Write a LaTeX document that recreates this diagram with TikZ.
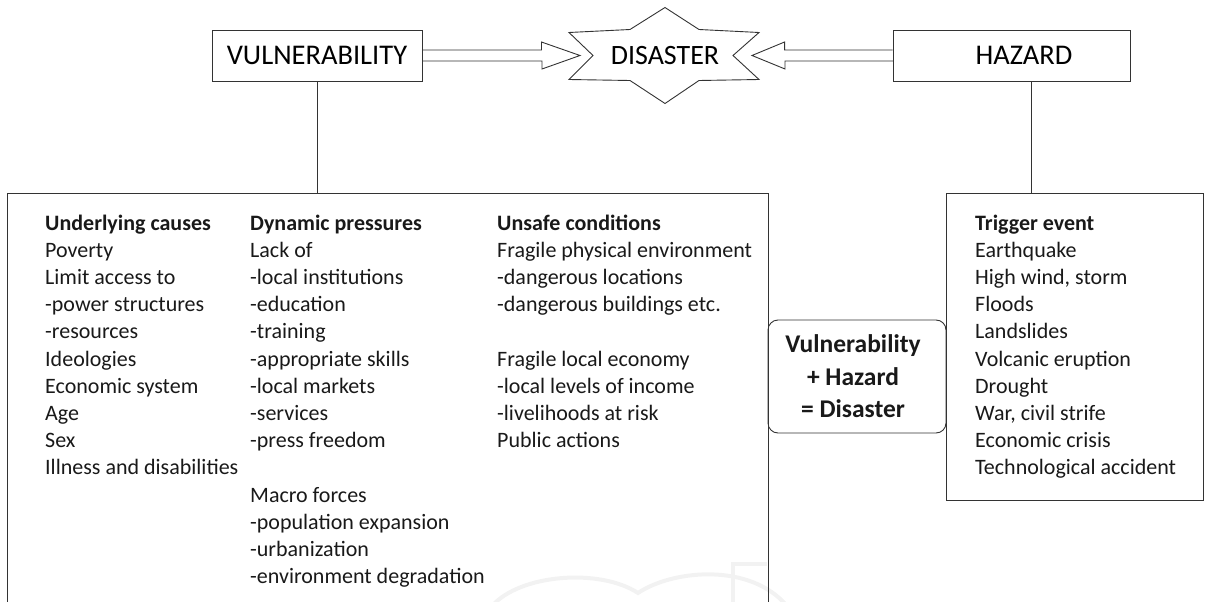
\documentclass[tikz,border=0pt]{standalone}
\usepackage{fontspec}
\setmainfont{Carlito}
\usetikzlibrary{calc}

\tikzset{
  box/.style={draw=black!80, line width=0.9pt, rectangle, inner sep=0pt},
  title/.style={box, font=\fontsize{28.5}{30}\selectfont},
  item/.style={anchor=base west, inner sep=0pt, text=black!90, font=\fontsize{22}{27.2}\selectfont},
  head/.style={item, font=\bfseries\fontsize{22}{27.2}\selectfont},
  line/.style={draw=black!80, line width=0.9pt}
}

\begin{document}
\begin{tikzpicture}[x=1pt, y=-1pt]
    \useasboundingbox (0,0) rectangle (1208,602);

    % Faint mark at the bottom
    \draw[black!5, line width=4pt] (492,606) .. controls (520,574) and (600,568) .. (638,593)
        .. controls (672,570) and (750,562) .. (787,606);
    \draw[black!5, line width=4pt] (733,606) -- (733,564) -- (767,564);

    % Top row
    \node[title, minimum width=210pt, minimum height=51pt] (vul) at (317,55.5) {VULNERABILITY};
    \node[title, minimum width=237pt, minimum height=51pt] (haz) at (1011.5,55.5) {\hspace*{25pt}HAZARD};
    \node[font=\fontsize{28}{30}\selectfont] (dis) at (665,55.5) {DISASTER};

    % Star round DISASTER
    \draw[line, shift={(dis.center)}] (0,-48) -- (-35,-26) -- (-96,-23) -- (-72,0) -- (-96,24)
        -- (-35,25) -- (0,48) -- (34,25) -- (94,24) -- (68,0) -- (94,-23) -- (34,-26) -- cycle;

    % Hollow arrows
    \coordinate (tipv) at (580,55.5);
    \coordinate (tiph) at (752,55.5);
    \draw[line] ($(vul.east)+(0,-5.5)$) -- ++(119,0) -- ++(0,-8) -- (tipv) -- ++(-38,13.5) -- ++(0,-8) -- ++(-119,0);
    \draw[line] ($(haz.west)+(0,-5.5)$) -- ++(-108,0) -- ++(0,-8) -- (tiph) -- ++(33,13.5) -- ++(0,-8) -- ++(108,0);

    % Boxes
    \node[box, minimum width=761pt, minimum height=460pt, anchor=north west] (causes) at (7,193) {};
    \node[box, minimum width=257pt, minimum height=307pt, anchor=north west] (trig) at (946,193) {};
    \node[box, rounded corners=10pt, minimum width=178pt, minimum height=113pt] (sum) at (857,376.5) {};
    \node[align=center, inner sep=0pt, text=black!90, font=\bfseries\fontsize{25.5}{32.5}\selectfont]
        (sumtxt) at ($(sum.center)+(-4,0)$) {Vulnerability\\+ Hazard\\= Disaster};

    % Connectors
    \draw[line] (vul.south) -- (vul.south |- causes.north);
    \draw[line] ([xshift=19.5pt]haz.south) -- ([xshift=19.5pt]haz.south |- trig.north);

    % Underlying causes
    \node[head] (uc0) at (45,230) {Underlying causes};
    \foreach \t [count=\i] in {Poverty, Limit access to, -power structures, -resources, Ideologies,
        Economic system, Age, Sex, Illness and disabilities} {
        \node[item] (uc\i) at (45,{230+27.2*\i}) {\t};
    }

    % Dynamic pressures
    \node[head] (dp0) at (250,230) {Dynamic pressures};
    \foreach \t [count=\i] in {Lack of, -local institutions, -education, -training, -appropriate skills,
        -local markets, -services, -press freedom, {}, Macro forces, -population expansion,
        -urbanization, -environment degradation} {
        \node[item] (dp\i) at (250,{230+27.2*\i}) {\t};
    }

    % Unsafe conditions
    \node[head] (us0) at (497,230) {Unsafe conditions};
    \foreach \t [count=\i] in {Fragile physical environment, -dangerous locations,
        -dangerous buildings etc., {}, Fragile local economy, -local levels of income,
        -livelihoods at risk, Public actions} {
        \node[item] (us\i) at (497,{230+27.2*\i}) {\t};
    }

    % Trigger event
    \node[head] (te0) at (975,230) {Trigger event};
    \foreach \t [count=\i] in {Earthquake, {High wind, storm}, Floods, Landslides, Volcanic eruption,
        Drought, {War, civil strife}, Economic crisis, Technological accident} {
        \node[item] (te\i) at (975,{230+27.2*\i}) {\t};
    }
\end{tikzpicture}
\end{document}
